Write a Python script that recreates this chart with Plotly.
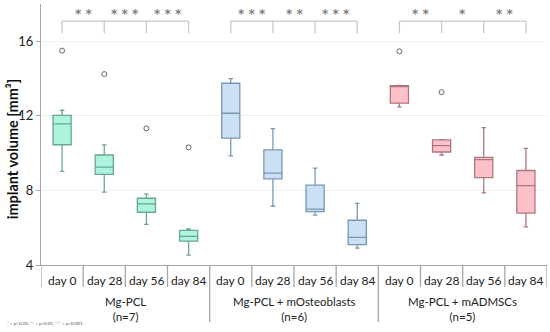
import plotly.graph_objects as go

groups = ["Mg-PCL", "Mg-PCL + mOsteoblasts", "Mg-PCL + mADMSCs"]
group_n = ["(n=7)", "(n=6)", "(n=5)"]
days = ["day 0", "day 28", "day 56", "day 84"]

# per group: lists over days
lower_whisker = [[9.02, 7.91, 6.18, 4.53],
                 [9.85, 7.15, 6.67, 4.91],
                 [12.48, 9.90, 7.87, 6.04]]
q1 = [[10.45, 8.86, 6.83, 5.28],
      [10.81, 8.62, 6.86, 5.09],
      [12.68, 10.06, 8.69, 6.78]]
median = [[11.57, 9.25, 7.28, 5.54],
          [12.14, 8.93, 7.00, 5.48],
          [13.58, 10.40, 9.65, 8.26]]
q3 = [[12.03, 9.90, 7.58, 5.86],
      [13.75, 10.17, 8.28, 6.40],
      [13.62, 10.71, 9.77, 9.07]]
upper_whisker = [[12.30, 10.44, 7.80, 5.93],
                 [14.00, 11.32, 9.20, 7.31],
                 [13.64, 10.73, 11.37, 10.26]]
outliers = [[15.50, 14.24, 11.33, 10.31],
            [None, None, None, None],
            [15.46, 13.27, None, None]]
significance = [["**", "***", "***"],
                ["***", "**", "***"],
                ["**", "*", "**"]]

fills = ["#adf4df", "#cbe0f4", "#ffc1c9"]
lines = ["#6aa597", "#7a98b4", "#a9787f"]

fig = go.Figure()
for g in range(3):
    xs = [g * 4 + d for d in range(4)]
    fig.add_trace(go.Box(
        x=xs, q1=q1[g], median=median[g], q3=q3[g],
        lowerfence=lower_whisker[g], upperfence=upper_whisker[g],
        fillcolor=fills[g], line=dict(color=lines[g], width=1.3),
        width=0.43, whiskerwidth=0.25, showlegend=False, hoverinfo="skip",
    ))
    ox = [x for x, o in zip(xs, outliers[g]) if o is not None]
    oy = [o for o in outliers[g] if o is not None]
    if ox:
        fig.add_trace(go.Scatter(
            x=ox, y=oy, mode="markers", showlegend=False, hoverinfo="skip",
            marker=dict(symbol="circle-open", size=5, color="#666666", line=dict(width=1)),
        ))

shapes = []
annotations = []
grey = "#a6a6a6"
# significance brackets
for g in range(3):
    x0, x1 = g * 4, g * 4 + 3
    shapes.append(dict(type="line", xref="x", yref="y", x0=x0, x1=x1, y0=17.08, y1=17.08,
                       line=dict(color="#c8c8c8", width=1.3)))
    for d in range(4):
        shapes.append(dict(type="line", xref="x", yref="y", x0=g * 4 + d, x1=g * 4 + d,
                           y0=16.43, y1=17.08, line=dict(color="#c8c8c8", width=1.3)))
    for k, s in enumerate(significance[g]):
        annotations.append(dict(x=g * 4 + k + 0.5, y=17.47, xref="x", yref="y",
                                text="<b>" + " ".join(s) + "</b>", showarrow=False,
                                font=dict(size=12, color="#7f7f7f", family="DejaVu Sans")))
# category dividers
for k in range(13):
    xb = k - 0.5
    long = k in (4, 8)
    shapes.append(dict(type="line", xref="x", yref="paper", x0=xb, x1=xb, y0=0,
                       y1=-0.218 if long else -0.084, line=dict(color=grey, width=1.3)))
# day labels
for g in range(3):
    for d in range(4):
        annotations.append(dict(x=g * 4 + d, y=-0.06, xref="x", yref="paper", text=days[d],
                                showarrow=False, yanchor="middle",
                                font=dict(size=12, color="#222222")))
    annotations.append(dict(x=g * 4 + 1.5, y=-0.168, xref="x", yref="paper",
                            text=groups[g] + "<br>" + group_n[g],
                            showarrow=False, yanchor="middle",
                            font=dict(size=11.5, color="#222222")))
annotations.append(dict(x=-0.071, y=-0.226, xref="paper", yref="paper",
                        text="* = p<0.05; ** = p<0.01; *** = p<0.001", showarrow=False,
                        xanchor="left", yanchor="middle", font=dict(size=4.5, color="#555555")))
annotations.append(dict(x=-0.057, y=0.444, xref="paper", yref="paper",
                        text="<b>implant volume [mm³]</b>", textangle=-90, showarrow=False,
                        xanchor="center", yanchor="middle", font=dict(size=14.5, color="#111111")))

fig.update_layout(
    width=550, height=332,
    margin=dict(l=41, r=3, t=4, b=67),
    paper_bgcolor="white", plot_bgcolor="white",
    font=dict(family="Lato, sans-serif", size=12, color="#222222"),
    shapes=shapes, annotations=annotations,
    xaxis=dict(range=[-0.5, 11.5], showticklabels=False, ticks="", showgrid=False,
               zeroline=False, showline=True, linecolor=grey, linewidth=1.3),
    yaxis=dict(range=[4, 18], tickvals=[4, 8, 12, 16], ticks="outside", ticklen=4,
               tickcolor=grey, showline=True, linecolor=grey, linewidth=1.3,
               gridcolor="#f2f2f2", zeroline=False, tickfont=dict(size=13, color="#222222")),
)
fig.write_html("out.html", config={"displayModeBar": False},
               post_script="document.body.style.margin='0px';")
